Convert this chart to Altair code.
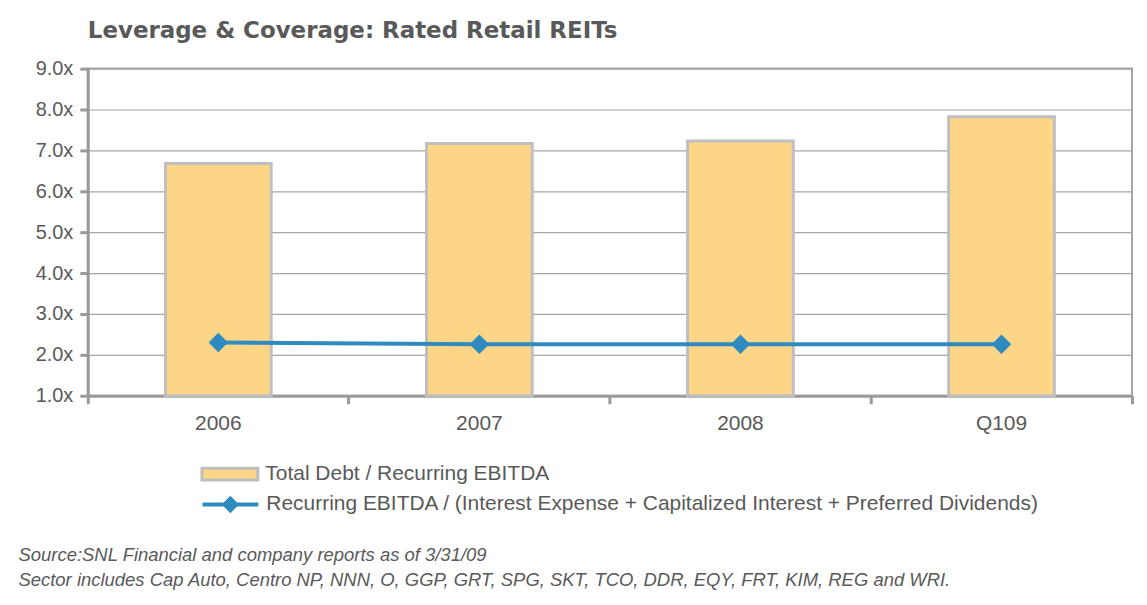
import altair as alt
import pandas as pd

# ---- data ----
periods = ["2006", "2007", "2008", "Q109"]
debt_to_ebitda = [6.68, 7.17, 7.23, 7.82]
coverage = [2.30, 2.26, 2.26, 2.26]

bar_label = "Total Debt / Recurring EBITDA"
line_label = "Recurring EBITDA / (Interest Expense + Capitalized Interest + Preferred Dividends)"
title_text = "Leverage & Coverage: Rated Retail REITs"
footnotes = [
    "Source:SNL Financial and company reports as of 3/31/09",
    "Sector includes Cap Auto, Centro NP, NNN, O,  GGP, GRT, SPG, SKT, TCO, DDR, EQY, FRT, KIM, REG and WRI.",
]

df = pd.DataFrame({
    "period": periods,
    "debt": debt_to_ebitda,
    "coverage": coverage,
    "bar_series": [bar_label] * len(periods),
    "line_series": [line_label] * len(periods),
})

GRAY_TXT = "#595959"
AXIS_GRAY = "#9A9A9A"
BAR_FILL = "#FDD586"
BAR_STROKE = "#BFBFBF"
LINE_BLUE = "#2E8BC0"

bar_symbol = "M-1,-0.21H1V0.21H-1Z"
line_symbol = "M-1,0H1M0,-0.21L0.21,0L0,0.21L-0.21,0Z"

x_enc = alt.X(
    "period:N",
    sort=periods,
    scale=alt.Scale(paddingInner=0, paddingOuter=0),
    axis=alt.Axis(
        title=footnotes,
        titleFont="Liberation Sans",
        titleFontStyle="italic",
        titleFontWeight="normal",
        titleFontSize=18.5,
        titleColor=GRAY_TXT,
        titleAnchor="start",
        titleAlign="left",
        titleBaseline="top",
        titleX=-70,
        titleY=150,
        titleLineHeight=25,
        labelAngle=0,
        labelFont="Liberation Sans",
        labelFontSize=21,
        labelColor=GRAY_TXT,
        labelPadding=9,
        domainColor=AXIS_GRAY,
        domainWidth=3,
        tickColor=AXIS_GRAY,
        tickWidth=3,
        tickSize=8,
        bandPosition=1,
        tickExtra=True,
        grid=False,
    ),
)

y_axis = alt.Axis(
    title=None,
    values=[1, 2, 3, 4, 5, 6, 7, 8, 9],
    labelExpr="format(datum.value, '.1f') + 'x'",
    labelFont="Liberation Sans",
    labelFontSize=20,
    labelColor=GRAY_TXT,
    labelPadding=7,
    domainColor=AXIS_GRAY,
    domainWidth=3,
    tickColor=AXIS_GRAY,
    tickWidth=3,
    tickSize=8,
    grid=True,
    gridColor="#A6A6A6",
    gridWidth=1.2,
)
y_scale = alt.Scale(domain=[1, 9], nice=False, zero=False)

bars = alt.Chart(df).mark_bar(
    width=alt.RelativeBandSize(0.405),
    stroke=BAR_STROKE,
    strokeWidth=3,
).encode(
    x=x_enc,
    y=alt.Y("debt:Q", scale=y_scale, axis=y_axis),
    y2=alt.datum(1),
    color=alt.Color(
        "bar_series:N",
        scale=alt.Scale(domain=[bar_label], range=[BAR_FILL]),
        legend=alt.Legend(
            title=None,
            orient="none",
            legendX=113,
            legendY=377,
            padding=0,
            symbolType=bar_symbol,
            symbolSize=3136,
            symbolStrokeColor=BAR_STROKE,
            symbolStrokeWidth=3,
            symbolFillColor=BAR_FILL,
            labelFont="Liberation Sans",
            labelFontSize=21,
            labelColor=GRAY_TXT,
            labelOffset=6,
            labelLimit=0,
        ),
    ),
)

line = alt.Chart(df).mark_line(color=LINE_BLUE, strokeWidth=4).encode(
    x=x_enc,
    y=alt.Y("coverage:Q", scale=y_scale, axis=y_axis),
)

points = alt.Chart(df).mark_point(
    shape="diamond", filled=True, size=380, opacity=1
).encode(
    x=x_enc,
    y=alt.Y("coverage:Q", scale=y_scale, axis=y_axis),
    color=alt.Color(
        "line_series:N",
        scale=alt.Scale(domain=[line_label], range=[LINE_BLUE]),
        legend=alt.Legend(
            title=None,
            orient="none",
            legendX=113,
            legendY=407,
            padding=0,
            symbolType=line_symbol,
            symbolSize=3136,
            symbolStrokeColor=LINE_BLUE,
            symbolStrokeWidth=4,
            symbolFillColor=LINE_BLUE,
            labelFont="Liberation Sans",
            labelFontSize=21,
            labelColor=GRAY_TXT,
            labelOffset=6,
            labelLimit=0,
        ),
    ),
)

chart = alt.layer(bars, line, points).resolve_scale(color="independent").properties(
    width=1047,
    height=328,
    title=alt.TitleParams(
        text=title_text,
        anchor="start",
        frame="group",
        font="DejaVu Sans",
        fontSize=23,
        fontWeight="bold",
        color=GRAY_TXT,
        offset=16,
    ),
    padding={"left": 10, "top": 11, "right": 5, "bottom": 5},
    background="white",
).configure_view(
    stroke="#A6A6A6",
    strokeWidth=2,
)

chart.save("out.html", embed_options={"renderer": "svg", "actions": False})
